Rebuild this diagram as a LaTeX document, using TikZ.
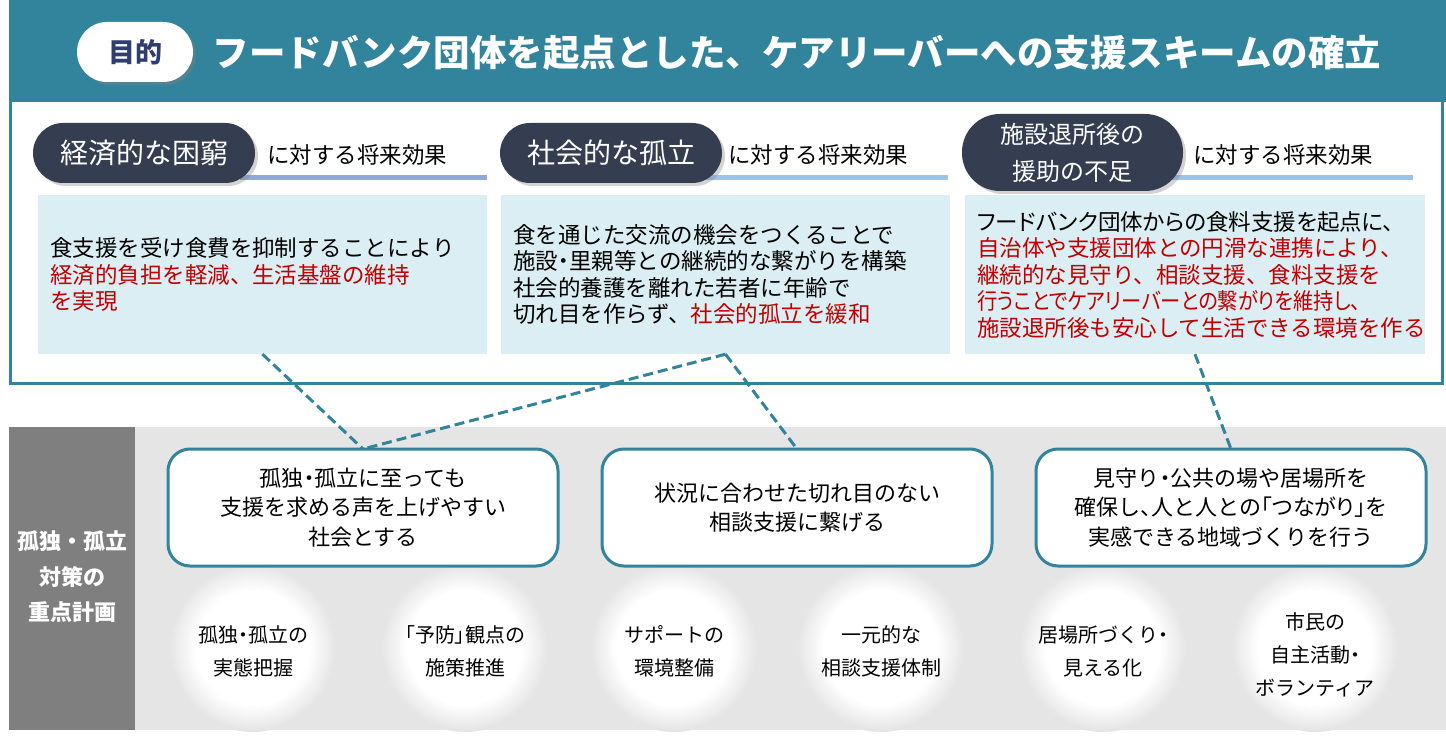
\documentclass[tikz,border=0pt]{standalone}
\usepackage{fontspec}
\setmainfont{Noto Sans CJK JP}
\newfontfamily\pfont{Noto Sans CJK JP}[RawFeature={+palt}]
\newfontfamily\cfont{Noto Sans CJK JP}[RawFeature={+palt}, FakeStretch=0.9]
\usetikzlibrary{shadows}
\definecolor{tealc}{RGB}{49,132,155}
\definecolor{navyc}{RGB}{47,61,112}
\definecolor{pillc}{RGB}{52,62,80}
\definecolor{boxc}{RGB}{219,238,243}
\definecolor{bggray}{RGB}{229,229,229}
\definecolor{colgray}{RGB}{127,127,127}
\definecolor{redc}{RGB}{192,0,0}
\definecolor{lineA}{RGB}{142,169,219}
\definecolor{lineB}{RGB}{157,195,230}
\tikzset{
  pillbox/.style={fill=pillc, text=white, rounded corners=30pt, minimum width=222pt, minimum height=60pt, inner sep=0pt,
    drop shadow={opacity=0.35, shadow xshift=3pt, shadow yshift=-3pt}, font=\fontsize{28}{32}\selectfont, align=center},
  efflabel/.style={anchor=west, inner sep=0pt, font=\fontsize{22.5}{26}\selectfont},
  effectbox/.style={fill=boxc, minimum height=159pt, inner xsep=12pt, inner ysep=0pt, align=left, font=\fontsize{22.5}{26.5}\selectfont},
  planbox/.style={draw=tealc, line width=3pt, fill=white, rounded corners=22pt, minimum width=390pt, minimum height=117pt, align=center, font=\fontsize{22}{29.5}\selectfont},
  glowtext/.style={align=center, font=\fontsize{20}{33}\selectfont},
  link/.style={draw=tealc, line width=3pt, dash pattern=on 10pt off 5pt},
}
\begin{document}
\begin{tikzpicture}[x=1pt,y=-1pt]
\useasboundingbox (0,0) rectangle (1446,743);
% lower band
\fill[bggray] (135,427) rectangle (1446,730);
\fill[colgray] (9,427) rectangle (135,730);
\node[text=white, align=center, font=\bfseries\fontsize{22}{35.5}\selectfont] (side) at (72,577) {孤独・孤立\\対策の\\重点計画};
% glow circles
\foreach \cx in {253,465,674,881,1103,1315}{
  \foreach \i in {0,...,28}{
    \pgfmathsetmacro{\rr}{84-\i*1.1}
    \pgfmathsetmacro{\pp}{min(100,\i*100/24)}
    \fill[white!\pp!bggray] (\cx,648) circle [radius=\rr];
  }
}
% upper frame
\draw[tealc, line width=3pt] (10.5,0) rectangle (1442.5,383);
\fill[tealc] (9,0) rectangle (1446,102);
\node[fill=white, rounded corners=30pt, minimum width=116pt, minimum height=60pt, inner sep=0pt,
  drop shadow={opacity=0.4, shadow xshift=3pt, shadow yshift=-3pt},
  text=navyc, font=\bfseries\fontsize{27}{30}\selectfont] (purpose) at (135,52) {目的};
\node[text=white, font=\bfseries\fontsize{36.5}{40}\selectfont] (title) at (797,53) {フードバンク団体を起点とした、ケアリーバーへの支援スキームの確立};
% underlines
\draw[lineA, line width=5pt] (240,178) -- (487,178);
\draw[lineB, line width=5pt] (700,178) -- (948,178);
\draw[lineB, line width=5pt] (1165,178) -- (1413,178);
% pills
\node[pillbox] (pill1) at (144,153) {経済的な困窮};
\node[pillbox] (pill2) at (611,153) {社会的な孤立};
\node[pillbox, minimum width=221pt, minimum height=77pt, rounded corners=38pt, font=\fontsize{24}{37}\selectfont] (pill3) at (1072.5,152.5) {施設退所後の\\援助の不足};
\node[efflabel] (eff1) at (267,155) {に対する将来効果};
\node[efflabel] (eff2) at (728,155) {に対する将来効果};
\node[efflabel] (eff3) at (1193,155) {に対する将来効果};
% effect boxes
\node[effectbox, text width=425pt] (box1) at (262.5,274.5) {食支援を受け食費を抑制することにより\\\textcolor{redc}{経済的負担を軽減、生活基盤の維持}\\\textcolor{redc}{を実現}};
\node[effectbox, text width=425pt] (box2) at (725.5,274.5) {食を通じた交流の機会をつくることで\\施設{\pfont ・}里親等との継続的な繋がりを構築\\社会的養護を離れた若者に年齢で\\切れ目を作らず、\textcolor{redc}{社会的孤立を緩和}};
\node[effectbox, text width=436pt] (box3) at (1195,274.5) {{\pfont フードバンク団体からの食料支援を起点に、}\\\textcolor{redc}{自治体や支援団体との円滑な連携により、}\\\textcolor{redc}{継続的な見守り、相談支援、食料支援を}\\\textcolor{redc}{\cfont 行うことでケアリーバーとの繋がりを維持し、}\\\textcolor{redc}{施設退所後も安心して生活できる環境を作る}};
% plan nodes (positions)
\coordinate (pA) at (363,507.5);
\coordinate (pB) at (797,507.5);
\coordinate (pC) at (1231,507.5);
% connectors
\draw[link] (box1.south) -- (pA |- 0,449);
\draw[link] (box2.south) -- (pA |- 0,449);
\draw[link] (box2.south) -- (pB |- 0,449);
\draw[link] (box3.south) -- (pC |- 0,449);
\node[planbox] (nodeA) at (pA) {孤独{\pfont ・}孤立に至っても\\支援を求める声を上げやすい\\社会とする};
\node[planbox] (nodeB) at (pB) {状況に合わせた切れ目のない\\相談支援に繋げる};
\node[planbox] (nodeC) at (pC) {見守り{\pfont ・}公共の場や居場所を\\確保し{\pfont 、}人と人との{\pfont 「つながり」}を\\実感できる地域づくりを行う};
% circle texts
\node[glowtext] (g1) at (253,651) {孤独{\pfont ・}孤立の\\実態把握};
\node[glowtext] (g2) at (465,651) {{\pfont 「予防」}観点の\\施策推進};
\node[glowtext] (g3) at (674,651) {サポートの\\環境整備};
\node[glowtext] (g4) at (881,651) {一元的な\\相談支援体制};
\node[glowtext] (g5) at (1103,651) {居場所づくり{\pfont ・}\\見える化};
\node[glowtext] (g6) at (1315,655) {市民の\\自主活動{\pfont ・}\\ボランティア};
\end{tikzpicture}
\end{document}
